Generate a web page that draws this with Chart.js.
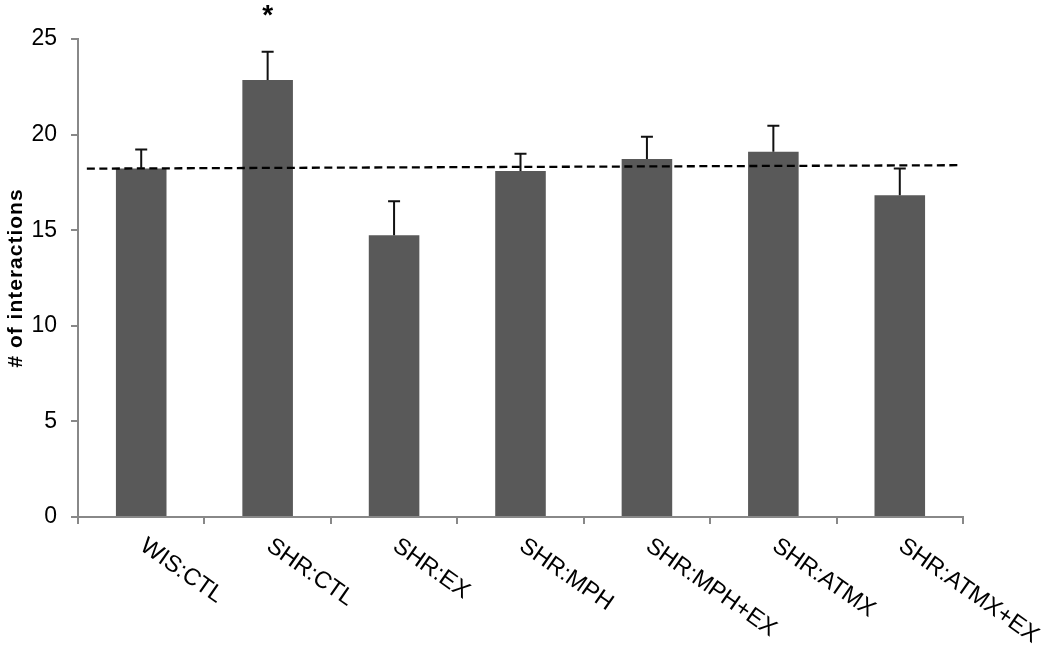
<!DOCTYPE html>
<html>
<head>
<meta charset="utf-8">
<script src="https://cdn.jsdelivr.net/npm/chart.js@4.4.0/dist/chart.umd.min.js"></script>
<style>
  html, body { margin: 0; padding: 0; background: #fff; }
  #wrap { width: 1050px; height: 646px; }
</style>
</head>
<body>
<div id="wrap"><canvas id="myChart" width="1050" height="646"></canvas></div>
<script>
const groups = ["WIS:CTL", "SHR:CTL", "SHR:EX", "SHR:MPH", "SHR:MPH+EX", "SHR:ATMX", "SHR:ATMX+EX"];
const means = [18.23, 22.85, 14.74, 18.09, 18.73, 19.1, 16.83];
const upperErr = [19.22, 24.33, 16.52, 19.0, 19.89, 20.46, 18.23];
const starred = [false, true, false, false, false, false, false];
// dashed reference line, in category units (0..7)
const dashX = [0.07, 6.97];
const dashY = [18.22, 18.4];

const FONT = "'Liberation Sans', Arial, sans-serif";

// error bars + asterisk
const errorBars = {
  id: "errorBars",
  afterDatasetsDraw(chart) {
    const c = chart.ctx;
    const meta = chart.getDatasetMeta(0);
    const y = chart.scales.y;
    c.save();
    c.strokeStyle = "#111";
    c.lineWidth = 2;
    meta.data.forEach((bar, i) => {
      const top = y.getPixelForValue(upperErr[i]);
      c.beginPath();
      c.moveTo(bar.x, bar.y);
      c.lineTo(bar.x, top);
      c.moveTo(bar.x - 6, top);
      c.lineTo(bar.x + 6, top);
      c.stroke();
      if (starred[i]) {
        c.fillStyle = "#000";
        c.font = "bold 28px " + FONT;
        c.textAlign = "center";
        c.textBaseline = "middle";
        c.fillText("*", bar.x, top - 36);
      }
    });
    c.restore();
  }
};

// slanted category labels + y title
const labelsPlugin = {
  id: "labelsPlugin",
  afterDraw(chart) {
    const c = chart.ctx;
    const meta = chart.getDatasetMeta(0);
    const area = chart.chartArea;
    c.save();
    c.fillStyle = "#000";
    c.font = "23.5px " + FONT;
    c.textAlign = "left";
    c.textBaseline = "top";
    meta.data.forEach((bar, i) => {
      c.save();
      c.translate(bar.x + 8, area.bottom + 17);
      c.rotate(35 * Math.PI / 180);
      c.fillText(groups[i], 0, 0);
      c.restore();
    });
    c.translate(16, 278);
    c.rotate(-Math.PI / 2);
    c.font = "bold 21px " + FONT;
    c.letterSpacing = "1px";
    c.textAlign = "center";
    c.textBaseline = "middle";
    c.fillText("# of interactions", 0, 0);
    c.restore();
  }
};

const ctx = document.getElementById("myChart").getContext("2d");
const myChart = new Chart(ctx, {
  type: "bar",
  data: {
    labels: groups,
    datasets: [
      {
        type: "bar",
        data: means,
        backgroundColor: "#595959",
        grouped: false,
        barPercentage: 0.4,
        categoryPercentage: 1,
        order: 2,
      },
      {
        type: "line",
        xAxisID: "xl",
        data: dashX.map((v, i) => ({ x: v, y: dashY[i] })),
        borderColor: "#000",
        borderWidth: 2.3,
        borderDash: [8, 4.5],
        pointRadius: 0,
        fill: false,
        order: 1,
      },
    ],
  },
  options: {
    responsive: false,
    animation: false,
    layout: { padding: { left: 0, right: 87, top: 39, bottom: 0 } },
    plugins: { legend: { display: false }, tooltip: { enabled: false } },
    scales: {
      x: {
        type: "category",
        offset: true,
        grid: { offset: true, drawOnChartArea: false, drawTicks: true, tickLength: 7, color: "#888", lineWidth: 2 },
        border: { color: "#888", width: 2 },
        ticks: { display: false },
        afterFit: (s) => { s.height = 129; },
      },
      xl: {
        type: "linear",
        display: false,
        offset: false,
        min: 0,
        max: 7,
      },
      y: {
        min: 0,
        max: 25,
        ticks: { stepSize: 5, color: "#000", font: { family: FONT, size: 23 }, padding: 14 },
        grid: { drawOnChartArea: false, drawTicks: true, tickLength: 7, color: "#888", lineWidth: 2 },
        border: { color: "#888", width: 2 },
        afterFit: (s) => { s.width = 78; },
      },
    },
  },
  plugins: [errorBars, labelsPlugin],
});
</script>
</body>
</html>
